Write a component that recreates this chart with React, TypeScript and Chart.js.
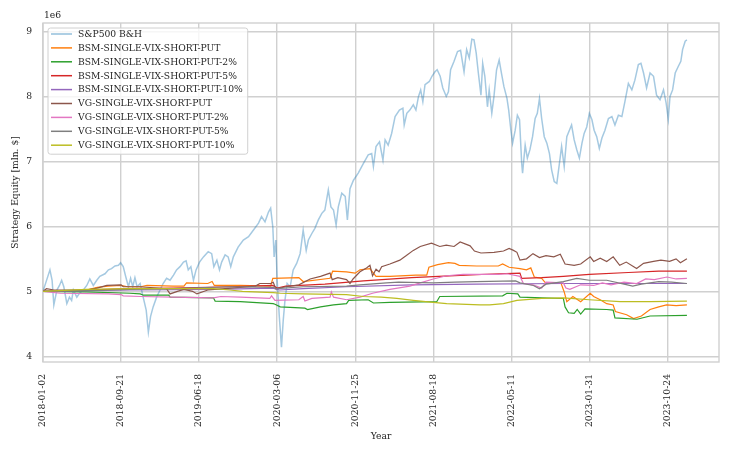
import React, { useEffect, useRef } from 'react';
import { Chart, registerables } from 'chart.js';

Chart.register(...registerables);

// x axis is the trading-day index, labelled every 180 rows with the date
const tickDays = [0, 180, 360, 540, 720, 900, 1080, 1260, 1440];
const tickDates = ['2018-01-02', '2018-09-21', '2019-06-18', '2020-03-06', '2020-11-25', '2021-08-18', '2022-05-11', '2023-01-31', '2023-10-24'];
const yTicks = [4, 5, 6, 7, 8, 9];

const names = [
  'S&P500 B&H',
  'BSM-SINGLE-VIX-SHORT-PUT',
  'BSM-SINGLE-VIX-SHORT-PUT-2%',
  'BSM-SINGLE-VIX-SHORT-PUT-5%',
  'BSM-SINGLE-VIX-SHORT-PUT-10%',
  'VG-SINGLE-VIX-SHORT-PUT',
  'VG-SINGLE-VIX-SHORT-PUT-2%',
  'VG-SINGLE-VIX-SHORT-PUT-5%',
  'VG-SINGLE-VIX-SHORT-PUT-10%',
];

// [trading day, equity in mln $]
const spx: [number, number][] = [
  [0, 5.0], [16, 5.33], [21, 5.17], [25, 4.79], [32, 5.02], [38, 5.09], [43, 5.17], [48, 5.07], [55, 4.81], [61, 4.91],
  [66, 4.86], [70, 5.02], [78, 4.91], [84, 4.97], [93, 5.02], [101, 5.09], [108, 5.19], [116, 5.09], [124, 5.17], [131, 5.23],
  [143, 5.27], [151, 5.33], [158, 5.35], [166, 5.39], [174, 5.4], [179, 5.44], [185, 5.38], [191, 5.22], [197, 5.07], [202, 5.2],
  [207, 5.07], [212, 5.21], [217, 5.07], [224, 5.12], [231, 4.91], [238, 4.71], [243, 4.37], [248, 4.61], [254, 4.76], [262, 4.91],
  [270, 5.02], [277, 5.12], [285, 5.2], [293, 5.17], [301, 5.25], [308, 5.33], [316, 5.38], [324, 5.45], [330, 5.47], [335, 5.33],
  [341, 5.38], [347, 5.17], [353, 5.33], [361, 5.45], [370, 5.53], [381, 5.61], [389, 5.58], [394, 5.38], [401, 5.48], [407, 5.33],
  [412, 5.45], [420, 5.56], [427, 5.53], [433, 5.38], [439, 5.53], [450, 5.68], [462, 5.79], [474, 5.84], [485, 5.94], [497, 6.05],
  [504, 6.15], [512, 6.07], [520, 6.22], [525, 6.28], [530, 5.99], [533, 5.53], [537, 5.79], [540, 5.17], [545, 4.61], [550, 4.14],
  [554, 4.55], [558, 4.86], [563, 5.12], [570, 5.07], [577, 5.33], [585, 5.43], [593, 5.58], [600, 5.94], [607, 5.63], [612, 5.79],
  [620, 5.89], [627, 5.97], [635, 6.1], [643, 6.2], [650, 6.25], [658, 6.56], [664, 6.3], [670, 6.25], [676, 6.02], [681, 6.3],
  [689, 6.51], [697, 6.46], [702, 6.1], [708, 6.58], [716, 6.71], [727, 6.82], [739, 6.97], [750, 7.1], [758, 7.12], [762, 6.92],
  [768, 7.23], [776, 7.3], [784, 7.02], [789, 7.33], [796, 7.25], [804, 7.43], [812, 7.69], [822, 7.79], [830, 7.82], [833, 7.56],
  [839, 7.74], [846, 7.79], [854, 7.87], [860, 7.79], [866, 8.0], [871, 8.1], [876, 7.92], [881, 8.18], [891, 8.23], [897, 8.31],
  [904, 8.38], [909, 8.41], [916, 8.31], [922, 8.13], [930, 8.0], [935, 8.07], [940, 8.41], [948, 8.54], [956, 8.69], [963, 8.71],
  [971, 8.38], [977, 8.72], [983, 8.59], [989, 8.88], [994, 8.87], [999, 8.67], [1004, 8.36], [1010, 8.02], [1014, 8.51], [1019, 8.31],
  [1025, 7.84], [1029, 8.1], [1035, 7.74], [1040, 8.0], [1046, 8.41], [1052, 8.56], [1058, 8.33], [1063, 8.15], [1070, 7.97], [1074, 7.79],
  [1079, 7.48], [1083, 7.28], [1089, 7.48], [1094, 7.71], [1099, 7.64], [1104, 6.97], [1106, 6.82], [1112, 7.25], [1117, 7.05], [1123, 7.18],
  [1129, 7.38], [1135, 7.66], [1140, 7.74], [1145, 7.97], [1150, 7.66], [1156, 7.38], [1162, 7.28], [1168, 7.12], [1173, 6.87], [1179, 6.69],
  [1185, 6.66], [1191, 6.97], [1196, 7.23], [1202, 6.92], [1208, 7.38], [1214, 7.48], [1219, 7.56], [1225, 7.33], [1231, 7.18], [1237, 7.05],
  [1243, 7.28], [1248, 7.43], [1254, 7.53], [1260, 7.74], [1266, 7.64], [1271, 7.48], [1277, 7.38], [1283, 7.2], [1289, 7.36], [1296, 7.48],
  [1304, 7.66], [1312, 7.69], [1319, 7.56], [1327, 7.71], [1335, 7.69], [1342, 7.92], [1350, 8.2], [1358, 8.1], [1365, 8.25], [1373, 8.49],
  [1379, 8.51], [1385, 8.36], [1392, 8.13], [1400, 8.36], [1408, 8.31], [1415, 8.02], [1423, 7.95], [1431, 8.1], [1437, 7.9], [1442, 7.65],
  [1446, 8.0], [1452, 8.1], [1458, 8.36], [1465, 8.46], [1471, 8.54], [1475, 8.72], [1481, 8.85], [1485, 8.87],
];

const bsmPut: [number, number][] = [
  [0, 5.0], [60, 5.0], [100, 5.02], [125, 5.06], [150, 5.08], [180, 5.09], [195, 5.07], [225, 5.07], [240, 5.09], [300, 5.08],
  [325, 5.08], [331, 5.13], [380, 5.12], [390, 5.15], [395, 5.09], [455, 5.09], [525, 5.08], [530, 5.2], [590, 5.21], [600, 5.15],
  [662, 5.2], [668, 5.31], [700, 5.3], [720, 5.28], [731, 5.33], [754, 5.35], [768, 5.23], [800, 5.23], [860, 5.25], [885, 5.25],
  [890, 5.37], [910, 5.41], [935, 5.44], [950, 5.43], [960, 5.4], [1000, 5.39], [1050, 5.39], [1060, 5.42], [1075, 5.37], [1100, 5.35],
  [1115, 5.33], [1125, 5.36], [1133, 5.22], [1150, 5.2], [1160, 5.12], [1195, 5.12], [1202, 4.99], [1208, 4.84], [1222, 4.92], [1240, 4.84],
  [1262, 4.97], [1270, 4.92], [1285, 4.87], [1300, 4.81], [1315, 4.79], [1320, 4.69], [1346, 4.64], [1362, 4.58], [1380, 4.62], [1400, 4.72],
  [1420, 4.76], [1438, 4.79], [1460, 4.78], [1485, 4.79],
];

const bsmPut2: [number, number][] = [
  [0, 5.0], [100, 4.99], [200, 4.97], [224, 4.96], [232, 4.94], [290, 4.94], [293, 4.91], [393, 4.9], [397, 4.85], [455, 4.84],
  [531, 4.81], [535, 4.8], [547, 4.76], [604, 4.74], [610, 4.72], [640, 4.76], [670, 4.79], [700, 4.81], [705, 4.86], [750, 4.87],
  [762, 4.82], [800, 4.83], [908, 4.84], [915, 4.92], [1060, 4.93], [1070, 4.97], [1095, 4.96], [1100, 4.91], [1200, 4.89], [1204, 4.76],
  [1212, 4.67], [1225, 4.66], [1232, 4.72], [1240, 4.65], [1250, 4.73], [1300, 4.72], [1315, 4.71], [1319, 4.59], [1370, 4.57], [1400, 4.62],
  [1485, 4.63],
];

const bsmPut5: [number, number][] = [
  [0, 5.0], [100, 5.02], [200, 5.04], [300, 5.05], [431, 5.07], [530, 5.09], [540, 5.05], [560, 5.08], [650, 5.11], [739, 5.16],
  [850, 5.21], [950, 5.24], [1050, 5.27], [1100, 5.28], [1104, 5.2], [1150, 5.21], [1200, 5.23], [1260, 5.26], [1350, 5.29], [1420, 5.31],
  [1485, 5.31],
];

const bsmPut10: [number, number][] = [
  [0, 5.0], [200, 5.02], [400, 5.03], [530, 5.05], [545, 5.02], [600, 5.04], [700, 5.07], [850, 5.1], [1000, 5.11], [1200, 5.12],
  [1485, 5.12],
];

const vgPut: [number, number][] = [
  [0, 5.0], [8, 5.04], [25, 5.02], [100, 5.02], [125, 5.05], [147, 5.09], [180, 5.1], [185, 5.07], [224, 5.07], [285, 5.04],
  [293, 4.96], [310, 5.0], [325, 5.03], [345, 5.0], [355, 4.96], [380, 5.02], [420, 5.04], [455, 5.06], [490, 5.08], [500, 5.12],
  [525, 5.12], [531, 5.14], [537, 5.04], [560, 5.07], [590, 5.1], [616, 5.19], [640, 5.23], [662, 5.28], [667, 5.18], [680, 5.21],
  [700, 5.18], [708, 5.12], [715, 5.19], [731, 5.3], [746, 5.36], [754, 5.4], [760, 5.24], [768, 5.34], [775, 5.3], [781, 5.38],
  [800, 5.42], [823, 5.48], [838, 5.55], [854, 5.63], [870, 5.69], [896, 5.74], [915, 5.69], [930, 5.71], [948, 5.69], [962, 5.76],
  [985, 5.7], [995, 5.62], [1010, 5.59], [1040, 5.6], [1062, 5.62], [1075, 5.66], [1085, 5.63], [1093, 5.6], [1100, 5.48], [1115, 5.5],
  [1130, 5.58], [1145, 5.52], [1160, 5.55], [1178, 5.53], [1193, 5.57], [1204, 5.42], [1225, 5.4], [1240, 5.42], [1262, 5.53], [1270, 5.46],
  [1285, 5.51], [1300, 5.46], [1315, 5.53], [1330, 5.4], [1345, 5.45], [1369, 5.35], [1385, 5.43], [1408, 5.46], [1425, 5.48], [1445, 5.46],
  [1460, 5.5], [1470, 5.44], [1485, 5.5],
];

const vgPut2: [number, number][] = [
  [0, 5.0], [40, 4.97], [150, 4.96], [180, 4.95], [185, 4.93], [224, 4.92], [300, 4.91], [393, 4.9], [410, 4.92], [455, 4.91],
  [523, 4.89], [527, 4.93], [535, 4.86], [590, 4.87], [600, 4.92], [604, 4.85], [620, 4.89], [662, 4.91], [665, 4.99], [670, 4.91],
  [700, 4.87], [731, 4.91], [760, 4.97], [800, 5.03], [846, 5.08], [870, 5.13], [900, 5.19], [931, 5.24], [969, 5.26], [1050, 5.26],
  [1070, 5.27], [1100, 5.23], [1108, 5.12], [1130, 5.1], [1150, 5.05], [1160, 5.14], [1200, 5.13], [1206, 5.05], [1215, 5.03], [1240, 5.1],
  [1270, 5.09], [1290, 5.13], [1310, 5.1], [1340, 5.14], [1369, 5.12], [1390, 5.19], [1410, 5.18], [1439, 5.22], [1460, 5.19], [1485, 5.2],
];

const vgPut5: [number, number][] = [
  [0, 5.0], [100, 5.01], [200, 5.03], [300, 5.04], [431, 5.07], [531, 5.06], [540, 5.04], [600, 5.07], [700, 5.08], [731, 5.1],
  [792, 5.13], [820, 5.14], [900, 5.13], [950, 5.14], [1000, 5.15], [1090, 5.16], [1100, 5.13], [1131, 5.09], [1145, 5.04], [1160, 5.11],
  [1200, 5.15], [1231, 5.2], [1260, 5.17], [1300, 5.17], [1340, 5.11], [1360, 5.08], [1380, 5.11], [1420, 5.15], [1450, 5.14], [1485, 5.12],
];

const vgPut10: [number, number][] = [
  [0, 5.0], [100, 5.03], [200, 5.04], [300, 5.04], [393, 5.04], [431, 5.02], [460, 5.0], [531, 4.98], [547, 4.97], [600, 4.96],
  [700, 4.95], [739, 4.92], [780, 4.91], [816, 4.89], [854, 4.86], [900, 4.83], [931, 4.81], [1008, 4.79], [1030, 4.79], [1062, 4.81],
  [1093, 4.86], [1150, 4.89], [1200, 4.9], [1260, 4.87], [1331, 4.84], [1400, 4.84], [1485, 4.85],
];

const series = [spx, bsmPut, bsmPut2, bsmPut5, bsmPut10, vgPut, vgPut2, vgPut5, vgPut10];
const colors = [
  'rgba(31,119,180,0.4)', '#ff7f0e', '#2ca02c', '#d62728', '#9467bd',
  '#8c564b', '#e377c2', '#7f7f7f', '#bcbd22',
];

const FONT = '"DejaVu Serif", serif';
const INK = '#262626';
const GRID = '#d0d0d0';

const decorPlugin = {
  id: 'decor',
  beforeDatasetsDraw(chart: any) {
    const { ctx, chartArea: a } = chart;
    ctx.save();
    ctx.strokeStyle = GRID;
    ctx.lineWidth = 1.4;
    ctx.strokeRect(a.left, a.top, a.right - a.left, a.bottom - a.top);
    ctx.restore();
  },
  afterDraw(chart: any) {
    const { ctx, chartArea: a } = chart;
    const sets = chart.data.datasets;
    ctx.save();
    // offset text of the y axis
    ctx.font = `9.2px ${FONT}`;
    ctx.fillStyle = INK;
    ctx.textAlign = 'left';
    ctx.textBaseline = 'alphabetic';
    ctx.fillText('1e6', a.left + 1, a.top - 4.6);

    // legend
    const rowH = 13.9;
    const textW = Math.max(...sets.map((d: any) => ctx.measureText(d.label).width));
    const left = a.left + 5;
    const top = a.top + 5;
    const w = 30 + textW + 5;
    const h = 6 + (sets.length - 1) * rowH + 9;
    ctx.beginPath();
    ctx.roundRect(left, top, w, h, 2.5);
    ctx.fillStyle = 'rgba(255,255,255,0.8)';
    ctx.fill();
    ctx.strokeStyle = GRID;
    ctx.lineWidth = 1;
    ctx.stroke();
    ctx.textBaseline = 'middle';
    sets.forEach((d: any, i: number) => {
      const y = top + 6 + i * rowH;
      ctx.beginPath();
      ctx.moveTo(left + 3, y);
      ctx.lineTo(left + 24, y);
      ctx.strokeStyle = d.borderColor;
      ctx.lineWidth = d.borderWidth + 0.3;
      ctx.stroke();
      ctx.fillStyle = INK;
      ctx.fillText(d.label, left + 30, y + 0.5);
    });
    ctx.restore();
  },
};

export default function App() {
  const canvasRef = useRef<HTMLCanvasElement>(null);
  const chartRef = useRef<Chart | null>(null);

  useEffect(() => {
    if (!canvasRef.current) return;
    if (chartRef.current) chartRef.current.destroy();

    chartRef.current = new Chart(canvasRef.current, {
      type: 'line',
      data: {
        datasets: series.map((pts, i) => ({
          label: names[i],
          data: pts.map(([x, y]) => ({ x, y })),
          borderColor: colors[i],
          backgroundColor: colors[i],
          borderWidth: i === 0 ? 1.5 : 1.2,
          pointRadius: 0,
          tension: 0,
          fill: false,
          order: series.length - i,
        })),
      },
      options: {
        responsive: true,
        maintainAspectRatio: false,
        animation: false,
        layout: { padding: { top: 23, right: 11, bottom: 0, left: 0 } },
        plugins: { legend: { display: false }, tooltip: { enabled: false } },
        scales: {
          x: {
            type: 'linear',
            min: 0,
            max: 1559,
            afterBuildTicks: (s: any) => {
              s.ticks = tickDays.map((v) => ({ value: v }));
            },
            afterFit: (s: any) => {
              s.height = 91;
            },
            grid: { color: GRID, lineWidth: 1.4, drawTicks: false },
            border: { display: false },
            ticks: {
              minRotation: 90,
              maxRotation: 90,
              autoSkip: false,
              padding: 12,
              color: INK,
              font: { family: FONT, size: 9.2 },
              callback: (v: any) => tickDates[tickDays.indexOf(Number(v))] ?? '',
            },
            title: {
              display: true,
              text: 'Year',
              color: INK,
              font: { family: FONT, size: 9.2 },
              padding: { top: 0, bottom: 11 },
            },
          },
          y: {
            type: 'linear',
            min: 3.912,
            max: 9.13,
            afterBuildTicks: (s: any) => {
              s.ticks = yTicks.map((v) => ({ value: v }));
            },
            afterFit: (s: any) => {
              s.width = 43;
            },
            grid: { color: GRID, lineWidth: 1.4, drawTicks: false },
            border: { display: false },
            ticks: {
              padding: 11,
              color: INK,
              font: { family: FONT, size: 9.2 },
              callback: (v: any) => String(v),
            },
            title: {
              display: true,
              text: 'Strategy Equity [mln. $]',
              color: INK,
              font: { family: FONT, size: 9.2 },
              padding: { top: 10, bottom: 0 },
            },
          },
        },
      },
      plugins: [decorPlugin],
    });

    return () => chartRef.current?.destroy();
  }, []);

  return (
    <div style={{ position: 'fixed', left: 0, top: 0, width: 730, height: 453, background: '#fff' }}>
      <canvas ref={canvasRef}></canvas>
    </div>
  );
}
